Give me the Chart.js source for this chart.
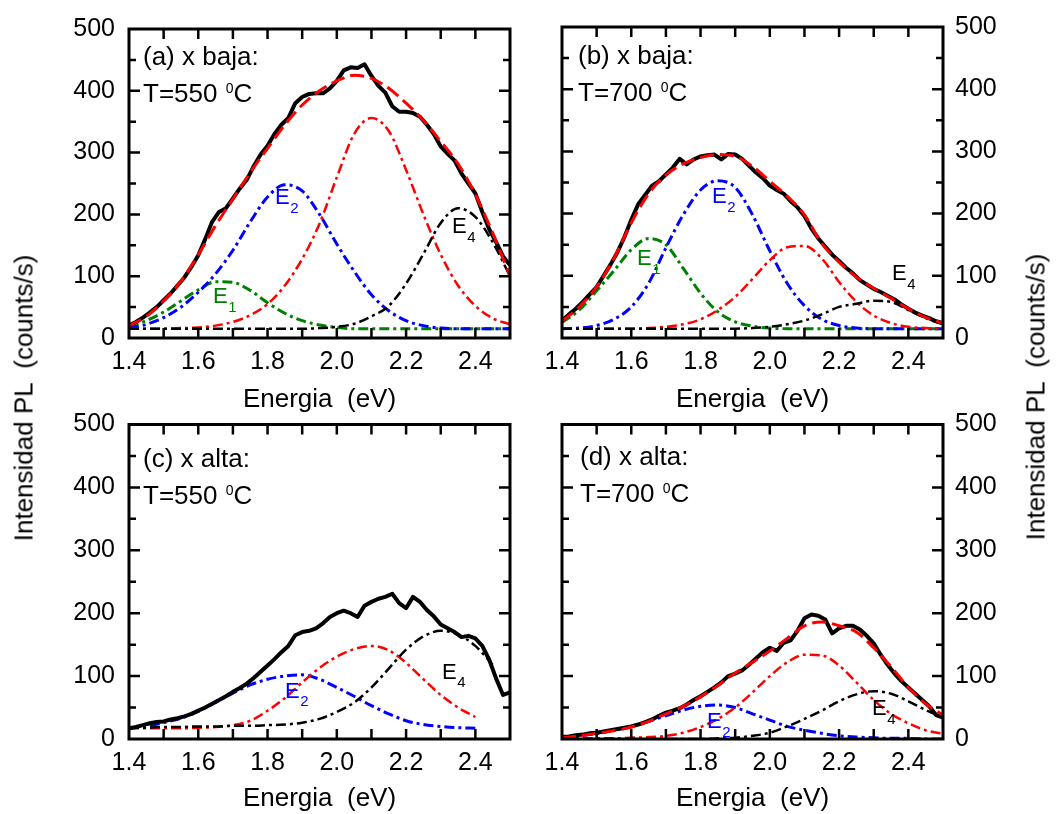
<!DOCTYPE html>
<html><head><meta charset="utf-8">
<script src="https://cdn.jsdelivr.net/npm/chart.js@4/dist/chart.umd.min.js"></script>
<style>
html,body{margin:0;padding:0;background:#fff;}
#wrap{position:relative;width:1061px;height:814px;overflow:hidden;background:#fff;}
canvas{position:absolute;}
.ytitle{position:absolute;font-family:'Liberation Sans',Arial,sans-serif;font-size:26px;color:#000;white-space:pre;transform:translate(-50%,-50%) rotate(-90deg);}
</style></head>
<body><div id="wrap">
<canvas id="ca" width="530" height="415" style="left:0px;top:0px"></canvas>
<canvas id="cb" width="531" height="415" style="left:530px;top:0px"></canvas>
<canvas id="cc" width="530" height="419" style="left:0px;top:395px"></canvas>
<canvas id="cd" width="531" height="419" style="left:530px;top:395px"></canvas>
<div class="ytitle" style="left:24px;top:398px">Intensidad PL  (counts/s)</div>
<div class="ytitle" style="left:1036px;top:397px">Intensidad PL  (counts/s)</div>
</div>
<script>
// ---------------- data ----------------
const expX = [1.40,1.42,1.44,1.46,1.48,1.50,1.52,1.54,1.56,1.58,1.60,1.62,1.64,1.66,1.68,1.70,1.72,1.74,1.76,1.78,1.80,1.82,1.84,1.86,1.88,1.90,1.92,1.94,1.96,1.98,2.00,2.02,2.04,2.06,2.08,2.10,2.12,2.14,2.16,2.18,2.20,2.22,2.24,2.26,2.28,2.30,2.32,2.34,2.36,2.38,2.40,2.42,2.44,2.46,2.48,2.50];
const fitX = [1.40,1.45,1.50,1.55,1.60,1.65,1.70,1.75,1.80,1.85,1.90,1.95,2.00,2.05,2.10,2.15,2.20,2.25,2.30,2.35,2.40,2.45,2.50];

// (a) x baja, 550 C
const aExp = [20,26,33,41,50,61,72,85,98,115,134,160,188,204,210,226,242,256,278,297,311,330,345,356,380,390,395,396,396,404,416,433,438,437,443,424,408,397,375,366,366,364,358,345,330,310,298,287,266,250,234,204,176,155,132,118];
const aTotal = [20,35,60,92,135,182,225,268,307,345,377,400,416,425,420,404,380,352,318,282,232,170,100];
const aE1 = [18,28,42,60,78,91,90,77,57,40,28,21,17,15,15,15,15,15,15,15,15,15,15];
const aE2 = [16,22,33,50,74,104,142,188,228,248,238,200,152,108,70,44,28,20,16,15,15,15,15];
const aE3 = [15,15,15,16,17,20,26,37,55,85,128,185,260,330,356,335,272,200,135,85,52,32,22];
const aE4 = [15,15,15,15,15,15,15,15,15,15,15,16,18,23,35,52,88,136,186,210,196,155,100];

// (b) x baja, 700 C
const bExp = [28,38,47,58,70,82,100,118,138,162,190,215,230,245,252,263,274,288,279,287,292,294,295,287,296,295,288,277,266,257,245,238,232,220,210,196,176,160,147,134,124,113,104,93,86,79,74,68,62,54,47,41,36,32,27,24];
const bTotal = [27,50,82,128,185,232,262,280,290,295,292,276,252,228,198,152,122,98,80,64,47,33,24];
const bE1 = [25,45,76,108,142,160,150,112,72,42,26,19,16,15,15,15,15,15,15,15,15,15,15];
const bE2 = [15,16,20,30,50,88,145,198,238,253,242,198,140,88,52,30,20,16,15,15,15,15,15];
const bE3 = [15,15,15,15,15,16,18,22,30,45,66,95,125,146,148,128,90,58,36,24,18,16,15];
const bE4 = [15,15,15,15,15,15,15,15,15,15,15,16,18,22,28,38,50,55,60,58,45,32,22];

// (c) x alta, 550 C
const cExp = [17,19,22,25,27,28,31,33,36,40,45,50,56,62,68,75,81,88,97,107,117,127,138,148,165,170,172,176,184,194,200,204,200,194,212,218,223,226,231,216,208,226,218,205,195,182,176,170,162,164,160,148,126,96,70,74];
const cE2 = [17,20,26,33,44,58,73,86,95,100,102,95,82,68,53,40,29,23,20,18,17];
const cE3 = [17,17,17,17,18,19,22,29,45,65,90,113,131,143,148,141,121,95,70,50,35];
const cE4 = [18,18,19,19,20,20,21,21,22,23,26,32,43,58,82,112,142,163,172,166,148,118];

// (d) x alta, 700 C
const dExp = [3,4,6,7,9,10,12,14,16,18,20,23,27,31,37,42,45,49,55,62,68,75,82,90,100,104,109,118,128,138,145,140,153,157,172,192,198,196,190,168,176,180,180,174,164,152,134,118,104,92,82,72,62,52,38,34];
const dTotal = [2,5,9,13,19,28,40,52,67,85,105,122,140,160,180,186,180,170,145,115,82,56,38];
const dE2 = [2,5,9,14,20,28,37,46,52,54,50,40,30,20,14,9,5,3,2,1,1,0,0];
const dE3 = [1,1,1,1,2,3,5,10,19,32,50,74,100,122,134,133,117,90,62,40,25,14,8];
const dE4 = [0,0,0,0,0,0,0,0,0,1,2,5,10,20,32,45,60,71,76,72,60,46,34];

// ticks
const xMinorTicks = [1.5,1.6,1.7,1.8,1.9,2.0,2.1,2.2,2.3,2.4];
const xTickLabels = ['1.4','1.6','1.8','2.0','2.2','2.4'];
const yInnerTicks = [50,100,150,200,250,300,350,400,450];
const yTickLabels = ['0','100','200','300','400','500'];

// ---------------- chart setup ----------------
const FONT = "'Liberation Sans', Arial, sans-serif";
Chart.defaults.font.family = FONT;
Chart.defaults.color = '#000';

const pts = (xs, ys) => ys.map((y, i) => ({x: xs[i], y}));
const RED = '#ff0000', BLUE = '#0000ff', GREEN = '#008000', BLACK = '#000000';
const DASHDOT = [10, 4, 3, 4];

function fitSet(ys, color, dash, width) {
  return {data: pts(fitX, ys), borderColor: color, borderWidth: width, borderDash: dash,
          cubicInterpolationMode: 'monotone', pointRadius: 0, fill: false};
}
function expSet(ys) {
  return {data: pts(expX, ys), borderColor: BLACK, borderWidth: 4, tension: 0, pointRadius: 0, fill: false,
          borderJoinStyle: 'round'};
}

const framePlugin = {
  id: 'frame',
  afterDatasetsDraw(chart) {
    const {ctx, chartArea: a, scales: {x, y}} = chart;
    ctx.save();
    ctx.strokeStyle = '#000';
    ctx.lineWidth = 2.5;
    ctx.beginPath();
    for (const v of xMinorTicks) {
      const p = x.getPixelForValue(v);
      ctx.moveTo(p, a.bottom); ctx.lineTo(p, a.bottom - 10);
      ctx.moveTo(p, a.top); ctx.lineTo(p, a.top + 10);
    }
    for (const v of yInnerTicks) {
      const p = y.getPixelForValue(v);
      const L = v % 100 === 0 ? 11 : 7;
      ctx.moveTo(a.left, p); ctx.lineTo(a.left + L, p);
      ctx.moveTo(a.right, p); ctx.lineTo(a.right - L, p);
    }
    ctx.stroke();
    ctx.lineWidth = 3;
    ctx.strokeRect(a.left, a.top, a.right - a.left, a.bottom - a.top);
    ctx.restore();
  }
};

function notesPlugin(items, ox, oy) {
  return {
    id: 'notes',
    afterDraw(chart) {
      const ctx = chart.ctx;
      ctx.save();
      ctx.textBaseline = 'alphabetic';
      ctx.textAlign = 'left';
      for (const it of items) {
        let x = it.x - ox;
        const y = it.y - oy;
        ctx.fillStyle = it.color;
        for (const s of it.segs) {
          ctx.font = s.size + 'px ' + FONT;
          ctx.fillText(s.t, x, y - (s.rise || 0));
          x += ctx.measureText(s.t).width + (s.gap || 0);
        }
      }
      ctx.restore();
    }
  };
}

function tempLine(x, y, t) {
  return {x, y, color: BLACK, segs: [{t: 'T=' + t + ' ', size: 26, gap: 1}, {t: '0', size: 14, rise: 9}, {t: 'C', size: 26}]};
}
function eLabel(x, y, n, color) {
  return {x, y, color, segs: [{t: 'E', size: 22, gap: 0.5}, {t: n, size: 15, rise: -8.5}]};
}

function makeChart(id, cfg) {
  const yRight = cfg.yPos === 'right';
  return new Chart(document.getElementById(id), {
    type: 'line',
    data: {datasets: cfg.datasets},
    options: {
      responsive: false, animation: false, devicePixelRatio: 1, events: [],
      layout: {padding: cfg.padding},
      plugins: {legend: {display: false}, tooltip: {enabled: false}},
      scales: {
        x: {
          type: 'linear', min: 1.4, max: 2.5, position: 'bottom',
          afterFit: s => { s.height = cfg.xHeight; },
          grid: {display: false, drawTicks: false},
          border: {display: false},
          ticks: {stepSize: 0.1, autoSkip: false, maxRotation: 0, minRotation: 0, padding: 9,
                  font: {size: 25}, color: '#000',
                  callback: v => { const k = Math.round(v * 10); return (k % 2 === 0 && k <= 24) ? xTickLabels[(k - 14) / 2] : ''; }},
          title: {display: true, text: 'Energia  (eV)', font: {size: 26}, color: '#000', padding: {top: 0, bottom: 0}}
        },
        y: {
          type: 'linear', min: 0, max: 500, position: cfg.yPos,
          afterFit: s => { s.width = cfg.yWidth; },
          grid: {display: false, drawTicks: false},
          border: {display: false},
          ticks: {stepSize: 50, autoSkip: false, padding: yRight ? 12 : 14, font: {size: 25}, color: '#000',
                  callback: v => (v % 100 === 0) ? yTickLabels[v / 100] : ''}
        }
      }
    },
    plugins: [framePlugin, notesPlugin(cfg.notes, cfg.ox, cfg.oy)]
  });
}

// (a)
makeChart('ca', {
  yPos: 'left', yWidth: 129, xHeight: 77, padding: {left: 0, right: 20, top: 23, bottom: 0}, ox: 0, oy: 0,
  datasets: [
    fitSet(aTotal, RED, [14, 6], 3),
    expSet(aExp),
    fitSet(aE4, BLACK, DASHDOT, 2.5),
    fitSet(aE3, RED, DASHDOT, 2.5),
    fitSet(aE2, BLUE, DASHDOT, 3),
    fitSet(aE1, GREEN, DASHDOT, 3)
  ],
  notes: [
    {x: 143, y: 65, color: BLACK, segs: [{t: '(a) x baja:', size: 26}]},
    tempLine(143, 101.5, '550'),
    eLabel(213, 303, '1', GREEN),
    eLabel(275, 204, '2', BLUE),
    eLabel(452, 233, '4', BLACK)
  ]
});

// (b)
makeChart('cb', {
  yPos: 'right', yWidth: 118, xHeight: 77, padding: {left: 32, right: 0, top: 23, bottom: 0}, ox: 530, oy: 0,
  datasets: [
    fitSet(bTotal, RED, [14, 6], 3),
    expSet(bExp),
    fitSet(bE4, BLACK, DASHDOT, 2.5),
    fitSet(bE3, RED, DASHDOT, 2.5),
    fitSet(bE2, BLUE, DASHDOT, 3),
    fitSet(bE1, GREEN, DASHDOT, 3)
  ],
  notes: [
    {x: 578, y: 64, color: BLACK, segs: [{t: '(b) x baja:', size: 26}]},
    tempLine(578, 100.5, '700'),
    eLabel(637, 265, '1', GREEN),
    eLabel(712, 203, '2', BLUE),
    eLabel(892, 280, '4', BLACK)
  ]
});

// (c)
makeChart('cc', {
  yPos: 'left', yWidth: 129, xHeight: 75, padding: {left: 0, right: 20, top: 29.5, bottom: 0}, ox: 0, oy: 395,
  datasets: [
    expSet(cExp),
    fitSet(cE4, BLACK, DASHDOT, 2.5),
    fitSet(cE3, RED, DASHDOT, 2.5),
    fitSet(cE2, BLUE, DASHDOT, 3)
  ],
  notes: [
    {x: 143, y: 466.5, color: BLACK, segs: [{t: '(c) x alta:', size: 26}]},
    tempLine(143, 503.5, '550'),
    eLabel(285, 697.5, '2', BLUE),
    eLabel(442, 678.5, '4', BLACK)
  ]
});

// (d)
makeChart('cd', {
  yPos: 'right', yWidth: 118, xHeight: 75, padding: {left: 32, right: 0, top: 29.5, bottom: 0}, ox: 530, oy: 395,
  datasets: [
    fitSet(dTotal, RED, [14, 6], 3),
    expSet(dExp),
    fitSet(dE4, BLACK, DASHDOT, 2.5),
    fitSet(dE3, RED, DASHDOT, 2.5),
    fitSet(dE2, BLUE, DASHDOT, 3)
  ],
  notes: [
    {x: 580, y: 465, color: BLACK, segs: [{t: '(d) x alta:', size: 26}]},
    tempLine(580, 501.5, '700'),
    eLabel(707, 728, '2', BLUE),
    eLabel(872, 715, '4', BLACK)
  ]
});
</script>
</body></html>
